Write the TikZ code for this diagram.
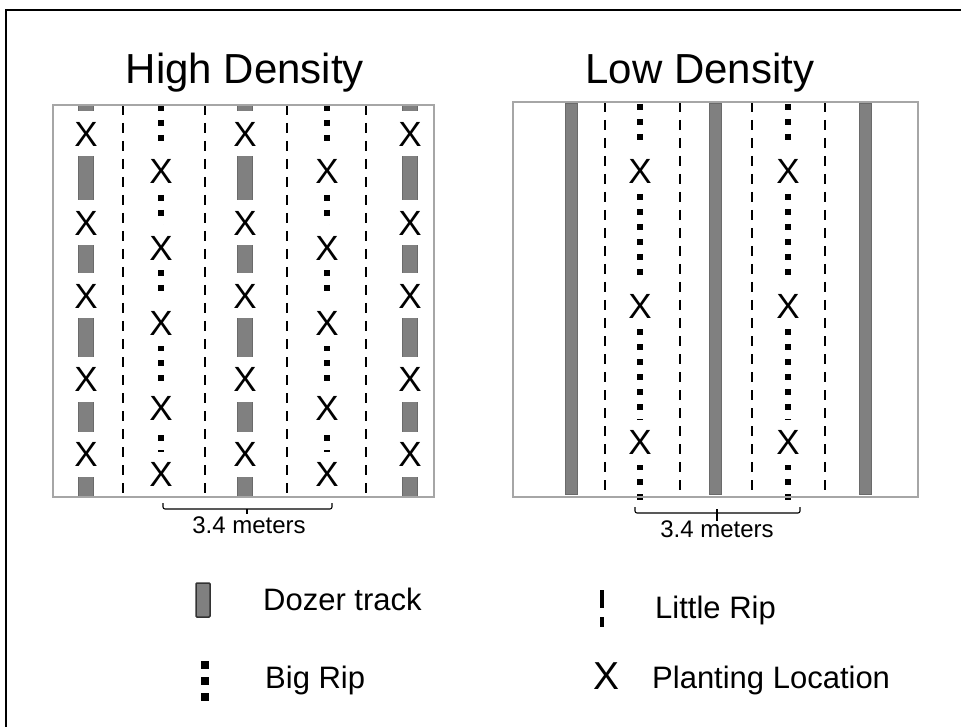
\documentclass[tikz,border=0pt]{standalone}
\usepackage{fontspec}
\setmainfont{Liberation Sans}
\definecolor{boxgray}{HTML}{A6A6A6}
\definecolor{dozergray}{HTML}{808080}
\definecolor{dozeredge}{HTML}{6A6A6A}
\begin{document}
\begin{tikzpicture}[x=1pt,y=-1pt,
  plotbox/.style={draw=boxgray,line width=1.5},
  dozer/.style={fill=dozergray,draw=dozeredge,line width=0.6},
  bigrip/.style={line width=6,dash pattern=on 6 off 9},
  littlerip/.style={line width=2,dash pattern=on 10 off 8},
  plant/.style={fill=white,inner sep=0,minimum width=26,minimum height=45,
    font=\fontsize{35}{35}\selectfont},
  title/.style={inner sep=0,anchor=base,font=\fontsize{42}{50}\selectfont},
  meas/.style={inner sep=0,anchor=base,font=\fontsize{24}{28}\selectfont},
  legtext/.style={inner sep=0,anchor=base west,font=\fontsize{31}{36}\selectfont}]

\clip (0,0) rectangle (961,727);
\fill[white] (0,0) rectangle (961,727);

% outer frame (runs past the page on the right and bottom)
\draw[line width=2.5] (6,10) rectangle (990,745);

% titles
\node[title] (thigh) at (245,84) {High Density};
\node[title] (tlow) at (700,84) {Low Density};

% ---------- high density plot ----------
\foreach \x in {86,245,410}
  \filldraw[dozer] (\x-7.5,105) rectangle (\x+7.5,497);
\foreach \x in {123,205,287,366}
  \draw[littlerip] (\x,105) -- (\x,497);
\foreach \x in {161,327}
  \draw[bigrip] (\x,105) -- (\x,497);
\foreach \x [count=\c] in {86,245,410}
  \foreach \y [count=\r] in {134,223,296,379,454}
    \node[plant] (hd-\c-\r) at (\x,\y) {X};
\foreach \x [count=\c] in {161,327}
  \foreach \y [count=\r] in {171,248,323,408,474}
    \node[plant] (hr-\c-\r) at (\x,\y) {X};
\draw[plotbox] (53,105) rectangle (434,497);

% spacing bracket
\draw[line width=1.1,rounded corners=2] (163,503) |- (247,509) -- (332,509) -- (332,503);
\draw[line width=1.1] (247,509) -- (247,514);
\node[meas] (mhigh) at (249,533) {3.4 meters};

% ---------- low density plot ----------
\foreach \x in {571,715,865}
  \filldraw[dozer] (\x-6,103) rectangle (\x+6,494);
\foreach \x in {605,680,752,825}
  \draw[littlerip] (\x,102) -- (\x,497);
\foreach \x in {640,788}
  \draw[bigrip] (\x,104) -- (\x,502);
\foreach \x [count=\c] in {640,788}
  \foreach \y [count=\r] in {171,306,442}
    \node[plant] (lr-\c-\r) at (\x,\y) {X};
\draw[plotbox] (513,102) rectangle (918,497);

% spacing bracket
\draw[line width=1.1,rounded corners=2] (635,507) |- (717,513) -- (800,513) -- (800,507);
\draw[line width=1.1] (717,509) -- (717,521);
\node[meas] (mlow) at (717,537) {3.4 meters};

% ---------- legend ----------
\filldraw[fill=dozergray,draw=black!80,line width=1.5,rounded corners=1]
  (196,583) rectangle (210,617);
\node[legtext] (ldozer) at (263,610) {Dozer track};

\foreach \y in {665,681,697}
  \fill (200.5,\y-4) rectangle (208.5,\y+4);
\node[legtext] (lbig) at (265,688) {Big Rip};

\draw[line width=4.5] (602,590) -- (602,608);
\draw[line width=4.5] (602,617) -- (602,627);
\node[legtext] (llittle) at (655,618) {Little Rip};

\node[inner sep=0,font=\fontsize{39}{40}\selectfont] (lx) at (606,676) {X};
\node[legtext] (lplant) at (652,688) {Planting Location};
\end{tikzpicture}
\end{document}
